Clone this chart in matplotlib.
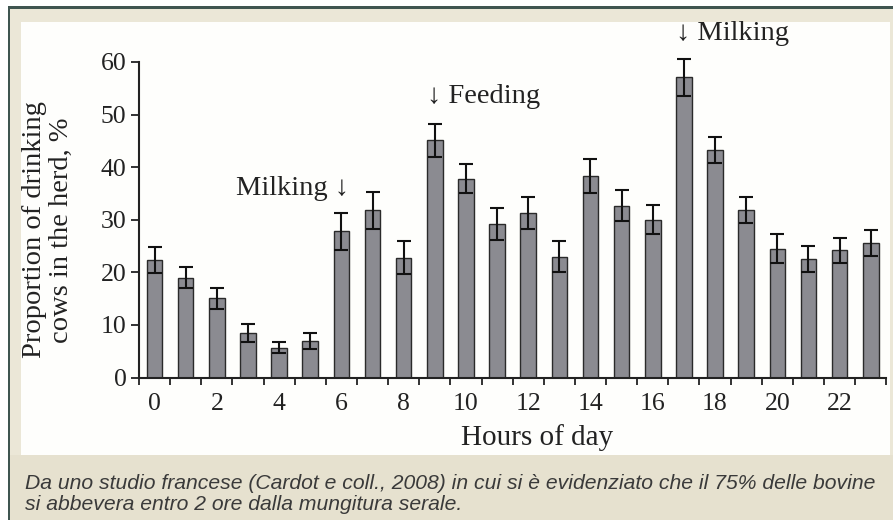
import matplotlib
matplotlib.use("Agg")
import matplotlib.pyplot as plt
from matplotlib.patches import Rectangle

# Data
hours = list(range(24))
drinking = [22.3, 19.0, 15.1, 8.5, 5.7, 7.0, 27.8, 31.8, 22.8, 45.1, 37.8, 29.2,
            31.3, 23.0, 38.3, 32.7, 30.0, 57.1, 43.2, 31.8, 24.5, 22.5, 24.2, 25.6]
errors = [2.5, 2.0, 2.0, 1.7, 1.0, 1.5, 3.5, 3.5, 3.2, 3.2, 2.8, 3.1,
          3.0, 2.9, 3.2, 3.0, 2.8, 3.5, 2.5, 2.5, 2.7, 2.5, 2.4, 2.5]
tick_labels = [str(h) for h in range(0, 24, 2)]

# events marked on the chart: (hour, height, label, side)
events = [(6, 36.0, "Milking \u2193", "right"),
          (9, 53.5, "\u2193 Feeding", "left"),
          (17, 65.4, "\u2193 Milking", "left")]

caption = ("Da uno studio francese (Cardot e coll., 2008) in cui si \u00e8 evidenziato che il 75% delle bovine\n"
           "si abbevera entro 2 ore dalla mungitura serale.")

W, H = 893, 520
serif = ["Liberation Serif", "DejaVu Serif"]

fig = plt.figure(figsize=(W / 100, H / 100), dpi=100)
fig.patch.set_facecolor("white")

def px_rect(x0, y0, x1, y1, color):
    # rectangle given in pixel coords, y measured from the top
    fig.patches.append(Rectangle((x0 / W, 1 - y1 / H), (x1 - x0) / W, (y1 - y0) / H,
                                 transform=fig.transFigure, facecolor=color,
                                 edgecolor="none", zorder=-10))

# frame
px_rect(9, 8, W, H, "#ebe7d7")
px_rect(21, 22, W - 3, 455, "#fefefc")
px_rect(10, 455, W, H, "#e6e1cf")
px_rect(8, 6, W, 9, "#3f5550")
px_rect(8, 6, 10, H, "#3f5550")

# plot area
ax = fig.add_axes([139 / W, 1 - 377.5 / H, (886.3 - 139) / W, 315.5 / H])
ax.set_facecolor("none")
bars = ax.bar(hours, drinking, width=0.5, color="#8b8b91", edgecolor="#2a2a2a", linewidth=1.0,
              yerr=errors, capsize=5, error_kw=dict(ecolor="#111111", elinewidth=1.5, capthick=1.5))
for part in bars.errorbar.lines:
    for artist in (part if isinstance(part, tuple) else [part]):
        if artist is not None:
            artist.set_clip_on(False)

ax.set_xlim(-0.5, 23.5)
ax.set_ylim(0, 60)
ax.set_yticks(range(0, 61, 10))
ax.set_xticks([h - 0.5 for h in range(25)])
ax.set_xticklabels([])
ax.set_xticks(list(range(0, 24, 2)), minor=True)
ax.set_xticklabels(tick_labels, minor=True, fontfamily=serif, fontsize=18.5, color="#222222")
ax.tick_params(axis="x", which="major", direction="out", length=5, width=1.3, color="#222222")
ax.tick_params(axis="x", which="minor", length=0, pad=11)
ax.tick_params(axis="y", direction="out", length=6, width=1.3, color="#222222", pad=3)
for lab in ax.get_yticklabels():
    lab.set_fontfamily(serif)
    lab.set_fontsize(18.5)
    lab.set_color("#222222")

for side in ["top", "right"]:
    ax.spines[side].set_visible(False)
for side in ["left", "bottom"]:
    ax.spines[side].set_linewidth(1.5)
    ax.spines[side].set_color("#222222")

for hour, height, label, side in events:
    ax.text(hour + (0.25 if side == "right" else -0.25), height, label, ha=side, va="center",
            fontfamily=serif, fontsize=20.5, color="#222222", clip_on=False)

# axis titles
fig.text(48 / W, 1 - 230 / H, "Proportion of drinking\ncows in the herd, %", rotation=90,
         ha="center", va="center", multialignment="center", fontfamily=serif,
         fontsize=20.5, color="#222222", linespacing=1.12)
fig.text(537 / W, 1 - 438 / H, "Hours of day", ha="center", va="center",
         fontfamily=serif, fontsize=21, color="#222222")

fig.text(25 / W, 1 - 494 / H, caption, ha="left", va="center", fontfamily="Liberation Sans",
         fontstyle="italic", fontsize=15.2, color="#3a3a3a", linespacing=1.12)

fig.savefig("out.png", dpi=100, facecolor=fig.get_facecolor())
